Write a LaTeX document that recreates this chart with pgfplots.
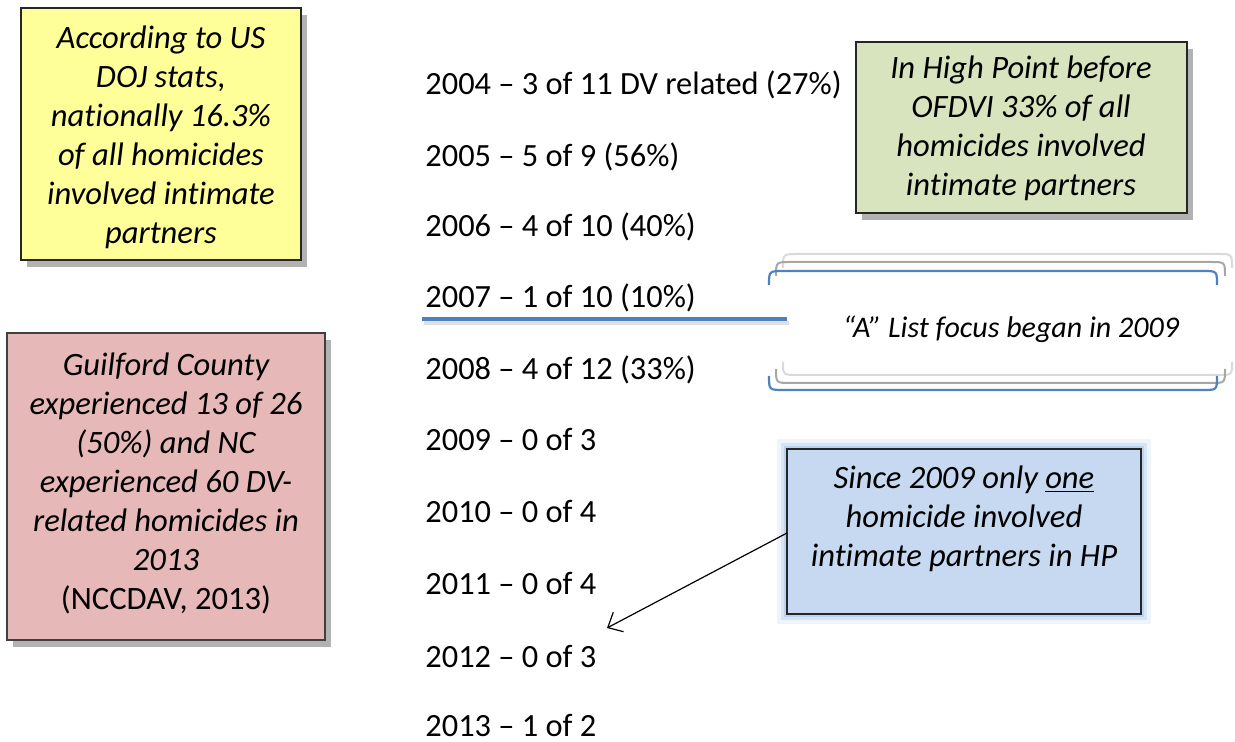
\documentclass[border=0pt]{standalone}
\usepackage{fontspec}
\setmainfont{Carlito}[Ligatures={NoCommon}]
\usepackage{pgfplots}
\pgfplotsset{compat=1.18}
\usetikzlibrary{arrows.meta, shadows}

\definecolor{noteyellow}{HTML}{FFFF99}
\definecolor{notegreen}{HTML}{D7E4BD}
\definecolor{notepink}{HTML}{E6B9B8}
\definecolor{noteblue}{HTML}{C6D9F1}
\definecolor{glowblue}{HTML}{8DB3E2}
\definecolor{hpblue}{HTML}{4F81BD}

\newcommand{\boxfont}{\fontsize{16.3}{19.5}\selectfont\itshape}

\begin{document}
\begin{tikzpicture}
\begin{axis}[
    scale only axis, width=617.5pt, height=371pt,
    xmin=0, xmax=1235, ymin=0, ymax=742, y dir=reverse,
    axis lines=none, clip=false
]
% yearly list: x, baseline y, label
\addplot[only marks, mark=*, mark size=0pt, mark options={draw=none, fill=none},
    nodes near coords, point meta=explicit symbolic,
    nodes near coords style={anchor=base west, inner sep=0pt, text=black,
        font=\fontsize{16.2}{19}\selectfont}]
  coordinates {
    (425,95)  [2004 – 3 of 11 DV related (27\%)]
    (425,167) [2005 – 5 of 9 (56\%)]
    (425,237) [2006 – 4 of 10 (40\%)]
    (425,308) [2007 – 1 of 10 (10\%)]
    (425,380) [2008 – 4 of 12 (33\%)]
    (425,451) [2009 – 0 of 3]
    (425,523) [2010 – 0 of 4]
    (425,595) [2011 – 0 of 4]
    (425,667) [2012 – 0 of 3]
    (425,736) [2013 – 1 of 2]
  };

% line under 2007
\draw[line width=2pt, black, opacity=0.12] (axis cs:424,323) -- (axis cs:789,323);
\draw[line width=2pt, hpblue] (axis cs:422,319) -- (axis cs:787,319);

% yellow note
\draw[line width=1pt, black!85, fill=noteyellow,
    drop shadow={shadow xshift=3pt, shadow yshift=-3.5pt, opacity=0.3, fill=black}]
  (axis cs:21,8) rectangle (axis cs:301,260);
\node[font=\boxfont, align=center] at (axis cs:161,137)
  {According to US\\DOJ stats,\\nationally 16.3\%\\of all homicides\\involved intimate\\partners};

% green note
\draw[line width=1pt, black!85, fill=notegreen,
    drop shadow={shadow xshift=3pt, shadow yshift=-3.5pt, opacity=0.3, fill=black}]
  (axis cs:856,42) rectangle (axis cs:1187,213);
\node[font=\boxfont, align=center] at (axis cs:1021,128)
  {In High Point before\\OFDVI 33\% of all\\homicides involved\\intimate partners};

% pink note
\draw[line width=1pt, black!75, fill=notepink,
    drop shadow={shadow xshift=3pt, shadow yshift=-3.5pt, opacity=0.3, fill=black}]
  (axis cs:7,333) rectangle (axis cs:325,640);
\node[font=\boxfont, align=center] at (axis cs:166,483)
  {Guilford County\\experienced 13 of 26\\(50\%) and NC\\experienced 60 DV-\\related homicides in\\2013\\{\upshape (NCCDAV, 2013)}};

% bracket callout
\draw[line width=1pt, black!15]
  (axis cs:783,268) .. controls (axis cs:783,254) .. (axis cs:798,254) -- (axis cs:1218,254)
  .. controls (axis cs:1232,254) .. (axis cs:1232,268);
\draw[line width=1pt, black!15]
  (axis cs:783,362) .. controls (axis cs:783,375) .. (axis cs:798,375) -- (axis cs:1218,375)
  .. controls (axis cs:1232,375) .. (axis cs:1232,362);
\draw[line width=1pt, black!35]
  (axis cs:776,276) .. controls (axis cs:776,262) .. (axis cs:791,262) -- (axis cs:1211,262)
  .. controls (axis cs:1225,262) .. (axis cs:1225,276);
\draw[line width=1pt, black!35]
  (axis cs:776,369) .. controls (axis cs:776,383) .. (axis cs:791,383) -- (axis cs:1211,383)
  .. controls (axis cs:1225,383) .. (axis cs:1225,369);
\draw[line width=1.1pt, hpblue]
  (axis cs:769,285) .. controls (axis cs:769,271) .. (axis cs:784,271) -- (axis cs:1203,271)
  .. controls (axis cs:1217,271) .. (axis cs:1217,285);
\draw[line width=1.1pt, hpblue]
  (axis cs:769,376) .. controls (axis cs:769,390) .. (axis cs:784,390) -- (axis cs:1203,390)
  .. controls (axis cs:1217,390) .. (axis cs:1217,376);
\node[font=\fontsize{15}{18}\selectfont\itshape] at (axis cs:1011,329) {“A” List focus began in 2009};

% blue note with glow
\fill[glowblue, opacity=0.15] (axis cs:777,439) rectangle (axis cs:1151,624);
\fill[glowblue, opacity=0.25] (axis cs:781,443) rectangle (axis cs:1147,620);
\fill[glowblue, opacity=0.35] (axis cs:784,446) rectangle (axis cs:1144,617);
\draw[line width=1pt, black!85, fill=noteblue] (axis cs:787,449) rectangle (axis cs:1141,614);
\node[font=\boxfont, align=center] at (axis cs:964,519)
  {Since 2009 only \underline{one}\\homicide involved\\intimate partners in HP};

% arrow to 2012
\draw[line width=0.6pt, -{Straight Barb[length=6pt, width=11pt]}]
  (axis cs:787,533) -- (axis cs:607,628);
\end{axis}
\pgfresetboundingbox
\path[use as bounding box] (current axis.south west) rectangle (current axis.north east);
\end{tikzpicture}
\end{document}
